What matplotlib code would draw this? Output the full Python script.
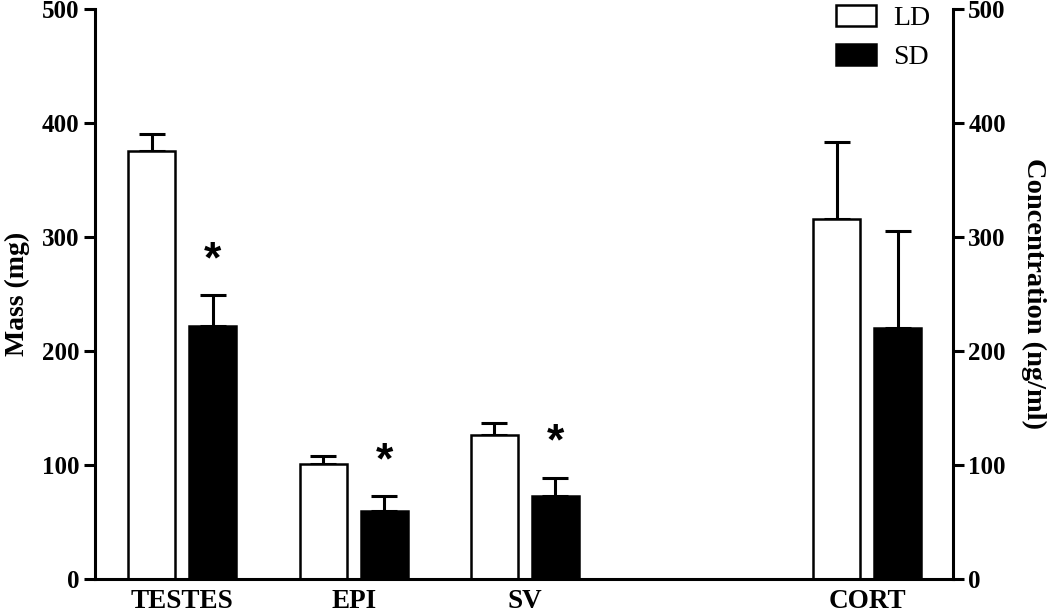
import numpy as np
import matplotlib
matplotlib.use("Agg")
import matplotlib.pyplot as plt
from matplotlib.patches import Patch

plt.rcParams['font.family'] = ['Liberation Serif', 'DejaVu Serif']

# values
categories = ['TESTES', 'EPI', 'SV', 'CORT']
positions = [1, 2, 3, 5]
ld_mean = [375, 101, 126, 316]
ld_sem = [15, 7, 11, 67]
sd_mean = [222, 60, 73, 220]
sd_sem = [27, 13, 16, 85]
significant = [True, True, True, False]

fig = plt.figure(figsize=(10.5, 6.16), dpi=100)
ax = fig.add_axes([95 / 1050, 37 / 616, 858 / 1050, 570 / 616])

x = np.array(positions, dtype=float)
w = 0.274
off = 0.178
lw = 1.8

ax.bar(x - off, ld_mean, w, color='white', edgecolor='black', linewidth=lw, zorder=2, label='LD')
ax.bar(x + off, sd_mean, w, color='black', edgecolor='black', linewidth=lw, zorder=2, label='SD')

ax.errorbar(x - off, ld_mean, yerr=[np.zeros(len(x)), ld_sem], fmt='none', ecolor='black',
            elinewidth=2.2, capsize=9.5, capthick=2.2, zorder=1)
ax.errorbar(x + off, sd_mean, yerr=[np.zeros(len(x)), sd_sem], fmt='none', ecolor='black',
            elinewidth=2.2, capsize=9.5, capthick=2.2, zorder=1)

# asterisks above the significant SD bars
for xi, m, s, sig in zip(x, sd_mean, sd_sem, significant):
    if sig:
        ax.text(xi + off, m + s + 30, '*', ha='center', va='center', fontsize=32,
                fontweight='bold', family=['Liberation Sans', 'DejaVu Sans'])

ax.set_xlim(0.49, 5.5)
ax.set_ylim(0, 500)
ax.set_yticks([0, 100, 200, 300, 400, 500])
ax.set_xticks(positions)
ax.set_xticklabels(categories, fontsize=19.5, fontweight='bold')
ax.tick_params(axis='x', length=0, pad=7)
ax.tick_params(axis='y', direction='out', length=8, width=2.2, labelsize=18, pad=3)
for lab in ax.get_yticklabels():
    lab.set_fontweight('bold')
ax.spines['top'].set_visible(False)
ax.spines['right'].set_visible(False)
for sp in ['left', 'bottom']:
    ax.spines[sp].set_linewidth(2.2)
ax.set_ylabel('Mass (mg)', fontsize=20, fontweight='bold', labelpad=9)

ax2 = ax.twinx()
ax2.set_ylim(0, 500)
ax2.set_yticks([0, 100, 200, 300, 400, 500])
ax2.tick_params(axis='y', direction='out', length=8, width=2.2, labelsize=18, pad=3)
for lab in ax2.get_yticklabels():
    lab.set_fontweight('bold')
for sp in ['top', 'left', 'bottom']:
    ax2.spines[sp].set_visible(False)
ax2.spines['right'].set_linewidth(2.2)
ax2.set_ylabel('Concentration (ng/ml)', fontsize=20.5, fontweight='bold', rotation=270, labelpad=29)

handles = [Patch(facecolor='white', edgecolor='black', linewidth=lw, label='LD'),
           Patch(facecolor='black', edgecolor='black', linewidth=lw, label='SD')]
ax.legend(handles=handles, loc='upper left', bbox_to_anchor=(833 / 1050, 1.0 - 2 / 616),
          bbox_transform=fig.transFigure,
          frameon=False, fontsize=20, handlelength=1.45, handleheight=0.8, handletextpad=0.6,
          labelspacing=0.45, borderpad=0.1, borderaxespad=0)

fig.savefig('out.png', dpi=100)
